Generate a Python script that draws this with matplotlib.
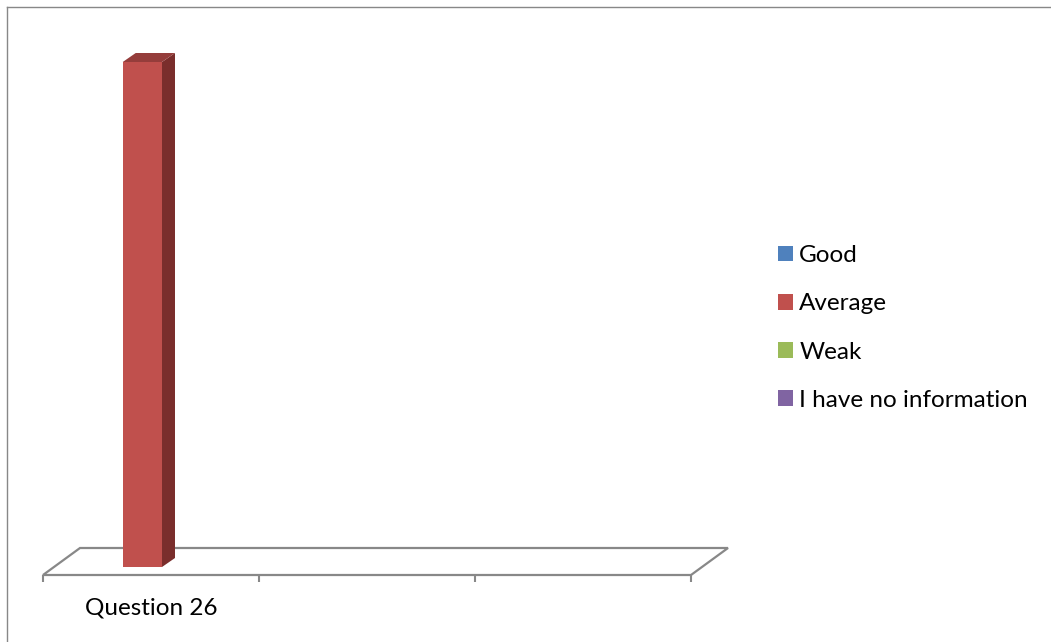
import matplotlib.pyplot as plt
from matplotlib.patches import Polygon, Patch
from matplotlib.transforms import IdentityTransform
import numpy as np

# Daten
categories = ["Question 26", "", ""]
series = ["Good", "Average", "Weak", "I have no information"]
good = [0, 0, 0]
average = [100, 0, 0]
weak = [0, 0, 0]
no_info = [0, 0, 0]
colors = ["#4F81BD", "#C0504D", "#9BBB59", "#8064A2"]

plt.rcParams["font.family"] = ["Lato", "DejaVu Sans"]

W, H = 1051, 642
fig = plt.figure(figsize=(W / 100, H / 100), dpi=100)

# Plotbereich (Vorderkante des Bodens)
ax = fig.add_axes([43 / W, (H - 575) / H, (691 - 43) / W, (575 - 70) / H])
ax.set_xlim(0, len(categories))
ax.set_ylim(0, 100)
for s in ax.spines.values():
    s.set_visible(False)
ax.set_yticks([])
ax.set_xticks(np.arange(len(categories) + 1))
ax.set_xticklabels([])
ax.set_xticks(np.arange(len(categories)) + 0.5, minor=True)
ax.set_xticklabels(categories, minor=True, fontsize=17.5)
ax.tick_params(axis="x", which="major", direction="out", length=5,
               width=1.5, color="#888888")
ax.tick_params(axis="x", which="minor", length=0, pad=16)

# Tiefe in Pixeln
floor_dx, floor_dy = 37, 27
gap = 1.5
bar_w = 1 / (len(series) + gap)


def to_px(x, y, dx=0, dy=0):
    px, py = ax.transData.transform((x, y))
    return (px + dx, py + dy)


# Boden
n = len(categories)
floor = [to_px(0, 0), to_px(n, 0), to_px(n, 0, floor_dx, floor_dy),
         to_px(0, 0, floor_dx, floor_dy)]
fig.add_artist(Polygon(floor, closed=True, facecolor="none",
                       edgecolor="#888888", lw=1.6,
                       transform=IdentityTransform(), zorder=1))

# 3D-Säulen
d0x, d0y = 11, 8
d1x, d1y = 24, 17
shade_top = {"#C0504D": "#953D3B"}
shade_side = {"#C0504D": "#7A2E2C"}
for i, vals in enumerate([good, average, weak, no_info]):
    for c, v in enumerate(vals):
        if v == 0:
            continue
        x0 = c + (gap / 2 + i) * bar_w
        x1 = x0 + bar_w
        col = colors[i]
        front = [to_px(x0, 0, d0x, d0y), to_px(x1, 0, d0x, d0y),
                 to_px(x1, v, d0x, d0y), to_px(x0, v, d0x, d0y)]
        top = [to_px(x0, v, d0x, d0y), to_px(x1, v, d0x, d0y),
               to_px(x1, v, d1x, d1y), to_px(x0, v, d1x, d1y)]
        side = [to_px(x1, 0, d0x, d0y), to_px(x1, 0, d1x, d1y),
                to_px(x1, v, d1x, d1y), to_px(x1, v, d0x, d0y)]
        for pts, fc in [(side, shade_side.get(col, col)),
                        (top, shade_top.get(col, col)),
                        (front, col)]:
            fig.add_artist(Polygon(pts, closed=True, facecolor=fc,
                                   edgecolor="none",
                                   transform=IdentityTransform(), zorder=3))

# Legende
handles = [Patch(facecolor=c, edgecolor="none") for c in colors]
fig.legend(handles, series, loc="center left",
           bbox_to_anchor=(766 / W, 1 - 328 / H), frameon=False,
           fontsize=17.5, handlelength=0.62, handleheight=0.62,
           handletextpad=0.25, labelspacing=1.12, borderpad=0)

# Rahmen
fig.add_artist(plt.Line2D([7 / W, 7 / W], [0, 1 - 7 / H], color="#888888",
                          lw=1, transform=fig.transFigure))
fig.add_artist(plt.Line2D([7 / W, 1], [1 - 7 / H, 1 - 7 / H], color="#888888",
                          lw=1, transform=fig.transFigure))

fig.savefig("out.png", dpi=100)
